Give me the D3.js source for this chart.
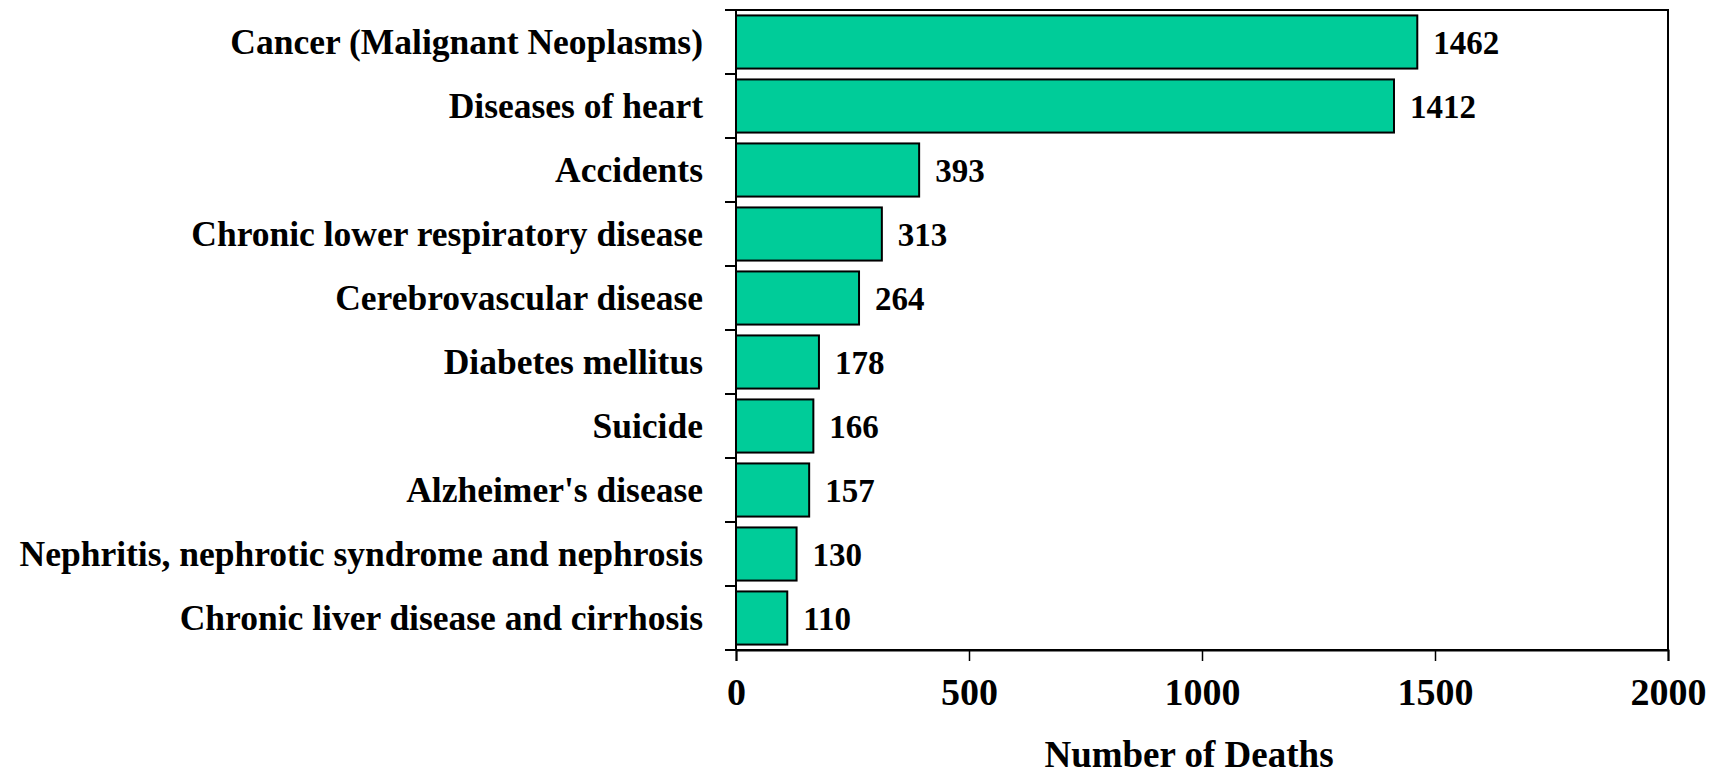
<!DOCTYPE html>
<html>
<head>
<meta charset="utf-8">
<script src="https://cdn.jsdelivr.net/npm/d3@7"></script>
<style>
  body { margin: 0; background: #fff; }
  text { font-family: "Liberation Serif", "Times New Roman", serif; font-weight: bold; fill: #000; }
</style>
</head>
<body>
<script>
var w = 1709
var h = 777

var causes = [
  "Cancer (Malignant Neoplasms)",
  "Diseases of heart",
  "Accidents",
  "Chronic lower respiratory disease",
  "Cerebrovascular disease",
  "Diabetes mellitus",
  "Suicide",
  "Alzheimer's disease",
  "Nephritis, nephrotic syndrome and nephrosis",
  "Chronic liver disease and cirrhosis"
];
var deaths = [1462, 1412, 393, 313, 264, 178, 166, 157, 130, 110];
var xTicks = [0, 500, 1000, 1500, 2000];

var margin = {top: 10, right: 41, bottom: 127, left: 736};

var x = d3.scaleLinear()
  .domain([0, 2000])
  .range([margin.left, w - margin.right]);

var y = d3.scaleBand()
  .domain(causes)
  .range([margin.top, h - margin.bottom])
  .paddingInner(0.17)
  .paddingOuter(0.085);

var yEdge = d3.scaleLinear()
  .domain([0, causes.length])
  .range([margin.top, h - margin.bottom]);

var svg = d3.select("body")
  .append("svg")
  .attr("width", w)
  .attr("height", h)

// plot frame
svg.append("rect")
  .attr("x", x(0))
  .attr("y", margin.top)
  .attr("width", x(2000) - x(0))
  .attr("height", h - margin.bottom - margin.top)
  .attr("fill", "none")
  .attr("stroke", "#000")
  .attr("stroke-width", 2)

// bars
svg.selectAll(".bar")
  .data(deaths)
  .enter().append("rect")
  .attr("class", "bar")
  .attr("x", x(0))
  .attr("y", (d, i) => y(causes[i]))
  .attr("width", d => x(d) - x(0))
  .attr("height", y.bandwidth())
  .attr("fill", "#00cc99")
  .attr("stroke", "#000")
  .attr("stroke-width", 2)

// value labels
svg.selectAll(".val")
  .data(deaths)
  .enter().append("text")
  .attr("class", "val")
  .attr("x", d => x(d) + 16)
  .attr("y", (d, i) => y(causes[i]) + y.bandwidth() / 2)
  .attr("dy", "0.35em")
  .style("font-size", "33px")
  .text(d => d)

// y axis: ticks on category boundaries
var yTicks = d3.range(causes.length + 1);
svg.selectAll(".ytick")
  .data(yTicks)
  .enter().append("line")
  .attr("x1", x(0) - 11)
  .attr("x2", x(0))
  .attr("y1", d => yEdge(d))
  .attr("y2", d => yEdge(d))
  .attr("stroke", "#000")
  .attr("stroke-width", 2)

svg.selectAll(".ylab")
  .data(causes)
  .enter().append("text")
  .attr("class", "ylab")
  .attr("x", 703)
  .attr("y", d => y(d) + y.bandwidth() / 2)
  .attr("dy", "0.35em")
  .attr("text-anchor", "end")
  .style("font-size", "35.5px")
  .text(d => d)

// x axis
var xAxis = svg.append("g")
  .attr("transform", "translate(0," + (h - margin.bottom) + ")")
  .call(d3.axisBottom(x).tickValues(xTicks).tickSize(11).tickPadding(17).tickFormat(d3.format("d")))

xAxis.select(".domain").attr("stroke-width", 2)
xAxis.selectAll(".tick line").attr("stroke-width", 1.5)
xAxis.selectAll(".tick text")
  .style("font-size", "38px")
  .style("font-family", "'Liberation Serif', 'Times New Roman', serif")
  .style("font-weight", "bold")

svg.append("text")
  .attr("x", 1189)
  .attr("y", 767)
  .attr("text-anchor", "middle")
  .style("font-size", "37px")
  .text("Number of Deaths")
</script>
</body>
</html>
